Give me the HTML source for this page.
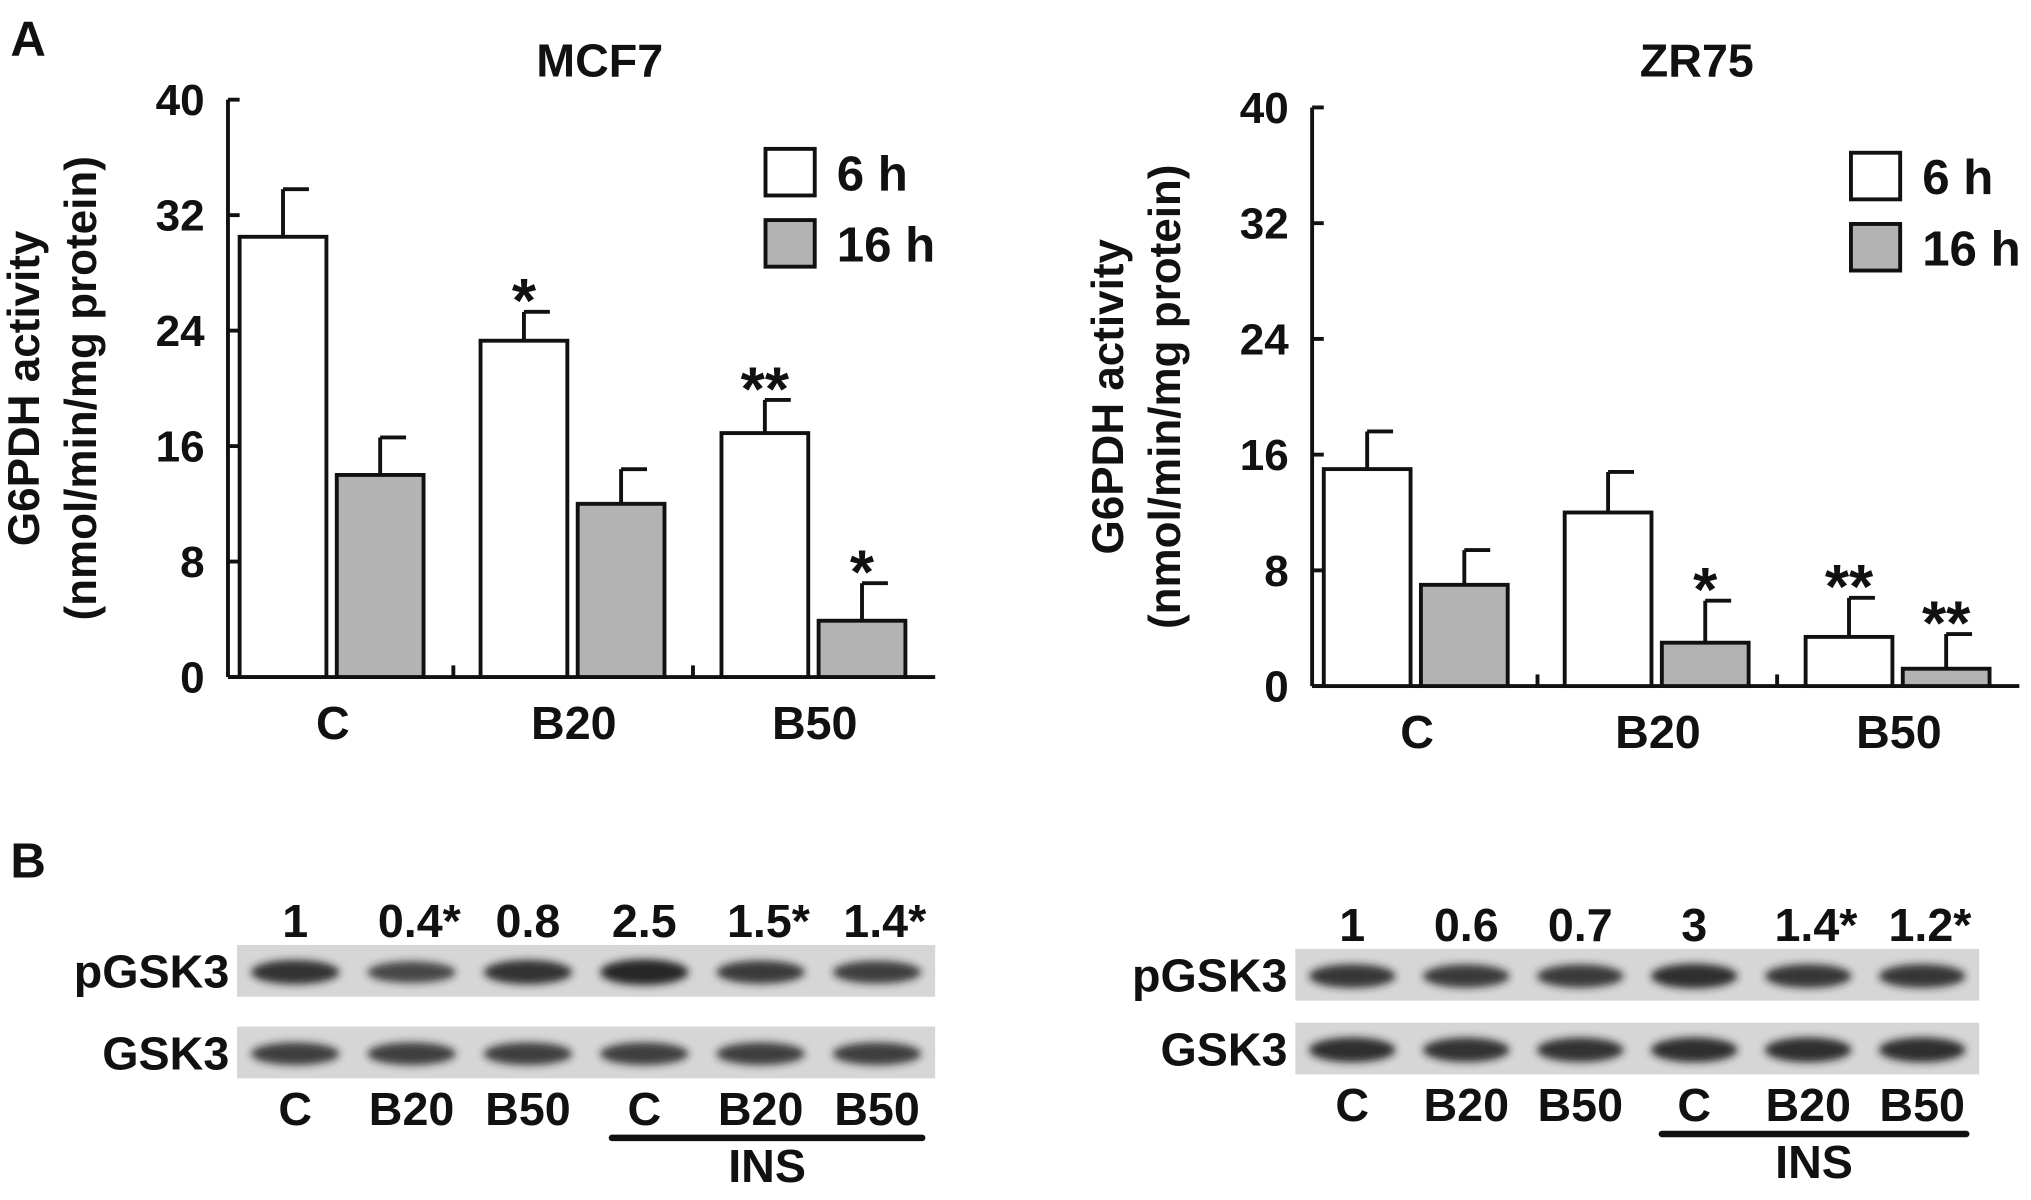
<!DOCTYPE html>
<html><head><meta charset="utf-8">
<style>
html,body{margin:0;padding:0;background:#fff;}
svg{display:block;}
text{font-family:"Liberation Sans Narrow","Liberation Sans",sans-serif;font-weight:bold;fill:#111;}
</style></head>
<body>
<svg id="fig" width="2031" height="1200" viewBox="0 0 1568 927" preserveAspectRatio="none" xmlns="http://www.w3.org/2000/svg">
<defs>
<filter id="blur" x="-20%" y="-50%" width="140%" height="200%"><feGaussianBlur stdDeviation="3"/></filter>
</defs>
<text x="8" y="43" font-size="38">A</text>
<text x="8" y="678" font-size="38">B</text>
<g id="charts"></g>
<g id="blots"></g>
</svg>
<script>
const NS="http://www.w3.org/2000/svg";
const SX=1;
const categories=["C","B20","B50"];
const yTicks=[0,8,16,24,32,40];
const mcf6=[30.5,23.3,16.9];
const mcf6Err=[3.3,2.0,2.3];
const mcf16=[14.0,12.0,3.9];
const mcf16Err=[2.6,2.4,2.6];
const mcf6Stars=["","*","**"];
const mcf16Stars=["","","*"];
const zr6=[15.0,12.0,3.4];
const zr6Err=[2.6,2.8,2.7];
const zr16=[7.0,3.0,1.2];
const zr16Err=[2.4,2.9,2.4];
const zr6Stars=["","","**"];
const zr16Stars=["","*","**"];

function el(tag,attrs,parent,txt){const e=document.createElementNS(NS,tag);for(const k in attrs)e.setAttribute(k,attrs[k]);if(txt!==undefined)e.textContent=txt;parent.appendChild(e);return e;}
function tx(x,y,size,anchor,str,parent){
  return el("text",{x:x/SX,y:y,"font-size":size,"text-anchor":anchor,transform:`scale(${SX},1)`},parent,str);
}

function chart(cfg){
  const g=el("g",{},document.getElementById("charts"));
  
  
  const y=v=>cfg.y0-(v/40)*(cfg.y0-cfg.y40);
  const t=tx(cfg.titleX,59,36,"middle",cfg.title,g);
  
  
  const yl=el("text",{transform:`translate(${cfg.ax-146},${(cfg.y0+cfg.y40)/2}) rotate(-90)`,"font-size":34,"text-anchor":"middle"},g);
  
  
  el("tspan",{x:0,dy:0},yl,"G6PDH activity");
  el("tspan",{x:0,dy:44},yl,"(nmol/min/mg protein)");
  const ya=el("line",{x1:cfg.ax,y1:cfg.y40,x2:cfg.ax,y2:cfg.y0,stroke:"#111","stroke-width":3},g);
  
  
  const xa=el("line",{x1:cfg.ax,y1:cfg.y0,x2:cfg.ax+546,y2:cfg.y0,stroke:"#111","stroke-width":3},g);
  
  
  yTicks.forEach(v=>{
    el("line",{x1:cfg.ax,y1:y(v),x2:cfg.ax+9,y2:y(v),stroke:"#111","stroke-width":3},g);
    const tl=tx(cfg.ax-18,y(v)+12,34,"end",String(v),g);
    
    
  });
  [174,359].forEach(dx=>el("line",{x1:cfg.ax+dx,y1:cfg.y0,x2:cfg.ax+dx,y2:cfg.y0-9,stroke:"#111","stroke-width":3},g));
  categories.forEach((c,i)=>{
    const gx=cfg.ax+9+i*186;
    [[cfg.s6,cfg.e6,cfg.st6,"#fff",0],[cfg.s16,cfg.e16,cfg.st16,"#b3b3b3",75]].forEach(([s,e,st,fill,off],j)=>{
      const x=gx+off, w=67, v=s[i];
      el("line",{x1:x+w/2,y1:y(v),x2:x+w/2,y2:y(v+e[i]),stroke:"#111","stroke-width":3},g);
      el("line",{x1:x+w/2,y1:y(v+e[i]),x2:x+w/2+20,y2:y(v+e[i]),stroke:"#111","stroke-width":3},g);
      const b=el("rect",{x:x,y:y(v),width:w,height:cfg.y0-y(v),fill:fill,stroke:"#111","stroke-width":3},g);
      
      
      if(st[i]){
        const s2=tx(x+w/2,y(v+e[i])+8,48,"middle",st[i],g);
        
        
      }
    });
    const xl=tx(gx+72,cfg.y0+48,36,"middle",c,g);
    
    
  });
  [["6 h","#fff",0],["16 h","#b3b3b3",55]].forEach(([lab,f,dy])=>{
    const lg=el("g",{},g);
    
    
    el("rect",{x:cfg.lx,y:cfg.ly+dy,width:38,height:36,fill:f,stroke:"#111","stroke-width":3},lg);
    tx(cfg.lx+55,cfg.ly+dy+32,38,"start",lab,lg);
  });
}
chart({name:"mcf7-chart",title:"MCF7",titleX:463,ax:176,y0:523,y40:77,s6:mcf6,e6:mcf6Err,s16:mcf16,e16:mcf16Err,st6:mcf6Stars,st16:mcf16Stars,lx:591,ly:115});
chart({name:"zr75-chart",title:"ZR75",titleX:1310,ax:1013,y0:530,y40:83,s6:zr6,e6:zr6Err,s16:zr16,e16:zr16Err,st6:zr6Stars,st16:zr16Stars,lx:1429,ly:118});

const laneLabels=["C","B20","B50","C","B20","B50"];
const pMcf=["1","0.4*","0.8","2.5","1.5*","1.4*"];
const pZr=["1","0.6","0.7","3","1.4*","1.2*"];
const bandMcfP=[0.85,0.6,0.85,1.0,0.75,0.7];
const bandMcfT=[0.7,0.7,0.7,0.7,0.7,0.7];
const bandZrP=[0.8,0.75,0.75,0.9,0.8,0.8];
const bandZrT=[0.9,0.85,0.85,0.9,0.9,0.9];
function blot(cfg){
  const g=el("g",{},document.getElementById("blots"));
  
  
  const lw=(cfg.x1-cfg.x0)/6;
  [["pGSK3",cfg.py,cfg.pb],["GSK3",cfg.ty,cfg.tb]].forEach(([lab,yy,bands])=>{
    const l=tx(cfg.x0-6,yy+33,36,"end",lab,g);
    
    
    el("rect",{x:cfg.x0,y:yy,width:cfg.x1-cfg.x0,height:40,fill:"#d6d6d6"},g);
    bands.forEach((b,i)=>{
      const bd=el("ellipse",{cx:cfg.x0+lw*(i+0.5),cy:yy+21,rx:lw*0.38,ry:6+b*4,fill:`rgba(30,30,30,${0.55+b*0.4})`,filter:"url(#blur)"},g);
      
      
    });
  });
  cfg.nums.forEach((n,i)=>{
    const t=tx(cfg.x0+lw*(i+0.5)+(n.includes("*")?6:0),cfg.py-6,36,"middle",n,g);
    
    
  });
  laneLabels.forEach((n,i)=>{
    const t=tx(cfg.x0+lw*(i+0.5),cfg.ty+76,36,"middle",n,g);
    
    
  });
  const ln=el("line",{x1:cfg.x0+lw*3.5-25,y1:cfg.ty+86,x2:cfg.x1-10,y2:cfg.ty+86,stroke:"#111","stroke-width":5,"stroke-linecap":"round"},g);
  
  
  const ins=tx((cfg.x0+lw*3.5-25+cfg.x1-10)/2,cfg.ty+120,36,"middle","INS",g);
  
  
}
blot({name:"mcf7-blot",x0:183,x1:722,py:730,ty:793,pb:bandMcfP,tb:bandMcfT,nums:pMcf});
blot({name:"zr75-blot",x0:1000,x1:1528,py:733,ty:790,pb:bandZrP,tb:bandZrT,nums:pZr});
</script>
</body></html>
